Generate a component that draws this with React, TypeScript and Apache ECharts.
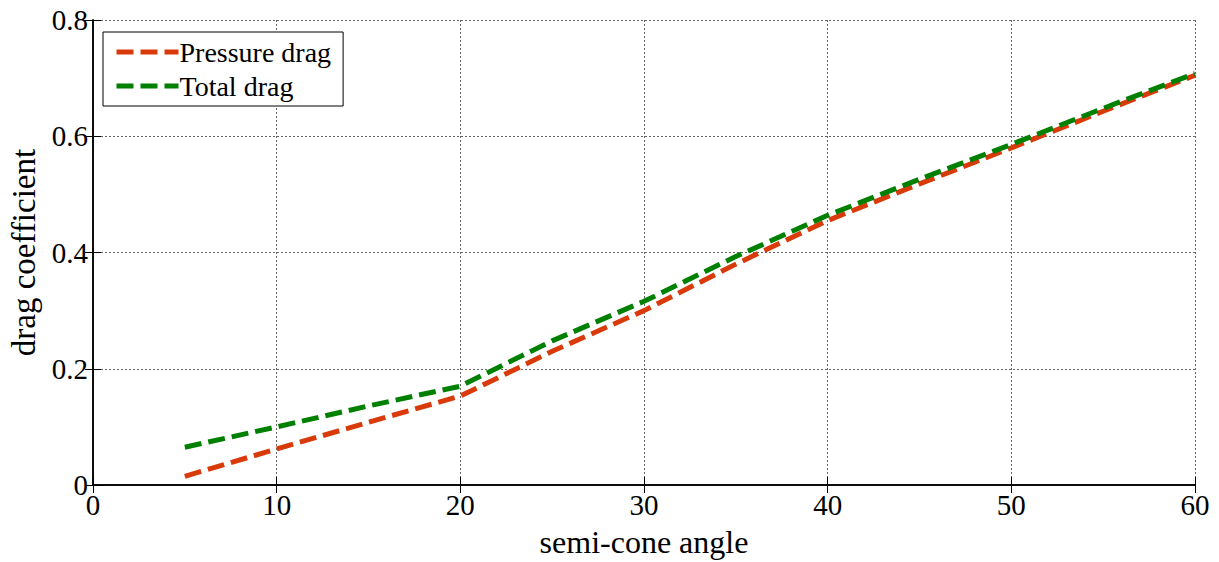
import React, { useEffect, useRef } from "react";
import * as echarts from "echarts";

const angles = [5, 10, 15, 20, 25, 30, 35, 40, 45, 50, 55, 60];
const pressureDrag = [0.015, 0.062, 0.108, 0.153, 0.230, 0.300, 0.380, 0.455, 0.518, 0.580, 0.643, 0.705];
const totalDrag = [0.065, 0.100, 0.136, 0.170, 0.248, 0.316, 0.393, 0.464, 0.526, 0.586, 0.648, 0.708];
const seriesNames = ["Pressure drag", "Total drag"];
const xTitle = "semi-cone angle";
const yTitle = "drag coefficient";

const FONT = "Liberation Serif";

export default function App() {
  const ref = useRef<HTMLDivElement>(null);
  useEffect(() => {
    if (!ref.current) return;
    const chart = echarts.init(ref.current, undefined, { renderer: "svg" });
    const splitLine = { show: true, lineStyle: { color: "#666", type: [2, 2] as any, width: 1 } };
    const axisLine = { show: true, lineStyle: { color: "#000", width: 1.5 } };
    const dash = [17, 7] as any;
    chart.setOption({
      animation: false,
      backgroundColor: "#fff",
      grid: { left: 93, right: 24, top: 20, bottom: 77, show: false, containLabel: false, outerBoundsMode: "none" },
      legend: {
        show: true,
        left: 103,
        top: 32,
        orient: "vertical",
        backgroundColor: "#fff",
        borderColor: "#000",
        borderWidth: 1,
        padding: [6, 12, 6, 11],
        itemGap: 6,
        itemWidth: 62,
        itemHeight: 24,
        itemStyle: { opacity: 0 },
        lineStyle: { width: 5, type: dash },
        textStyle: { fontFamily: FONT, fontSize: 28, color: "#000", padding: [0, 0, 0, -4] },
        data: seriesNames,
      },
      xAxis: [
        {
          type: "value",
          min: 0,
          max: 60,
          interval: 10,
          position: "bottom",
          axisLine,
          axisTick: { show: true, inside: true, length: 8, lineStyle: { color: "#000" } },
          axisLabel: { fontFamily: FONT, fontSize: 29, color: "#000", margin: 5 },
          splitLine,
          name: xTitle,
          nameLocation: "middle",
          nameGap: 41,
          nameTextStyle: { fontFamily: FONT, fontSize: 32, color: "#000" },
        },
        {
          type: "value",
          min: 0,
          max: 60,
          interval: 10,
          position: "top",
          axisLine,
          axisTick: { show: true, inside: true, length: 8, lineStyle: { color: "#000" } },
          axisLabel: { show: false },
          splitLine: { show: false },
        },
      ],
      yAxis: [
        {
          type: "value",
          min: 0,
          max: 0.8,
          interval: 0.2,
          position: "left",
          axisLine,
          axisTick: { show: true, inside: true, length: 8, lineStyle: { color: "#000" } },
          axisLabel: { fontFamily: FONT, fontSize: 29, color: "#000", margin: 5 },
          splitLine,
          name: yTitle,
          nameLocation: "middle",
          nameGap: 51,
          nameRotate: 90,
          nameTextStyle: { fontFamily: FONT, fontSize: 33, color: "#000" },
        },
        {
          type: "value",
          min: 0,
          max: 0.8,
          interval: 0.2,
          position: "right",
          axisLine,
          axisTick: { show: true, inside: true, length: 8, lineStyle: { color: "#000" } },
          axisLabel: { show: false },
          splitLine: { show: false },
        },
      ],
      series: [
        {
          name: seriesNames[0],
          type: "line",
          data: angles.map((a, i) => [a, pressureDrag[i]]),
          showSymbol: false,
          symbol: "none",
          color: "#D93A0A",
          lineStyle: { color: "#D93A0A", width: 5, type: dash },
        },
        {
          name: seriesNames[1],
          type: "line",
          data: angles.map((a, i) => [a, totalDrag[i]]),
          showSymbol: false,
          symbol: "none",
          color: "#008000",
          lineStyle: { color: "#008000", width: 5, type: dash },
        },
      ],
    });
    return () => chart.dispose();
  }, []);
  return (
    <div
      ref={ref}
      style={{ position: "fixed", left: 0, top: 0, width: 1219, height: 562, background: "#fff" }}
    />
  );
}
